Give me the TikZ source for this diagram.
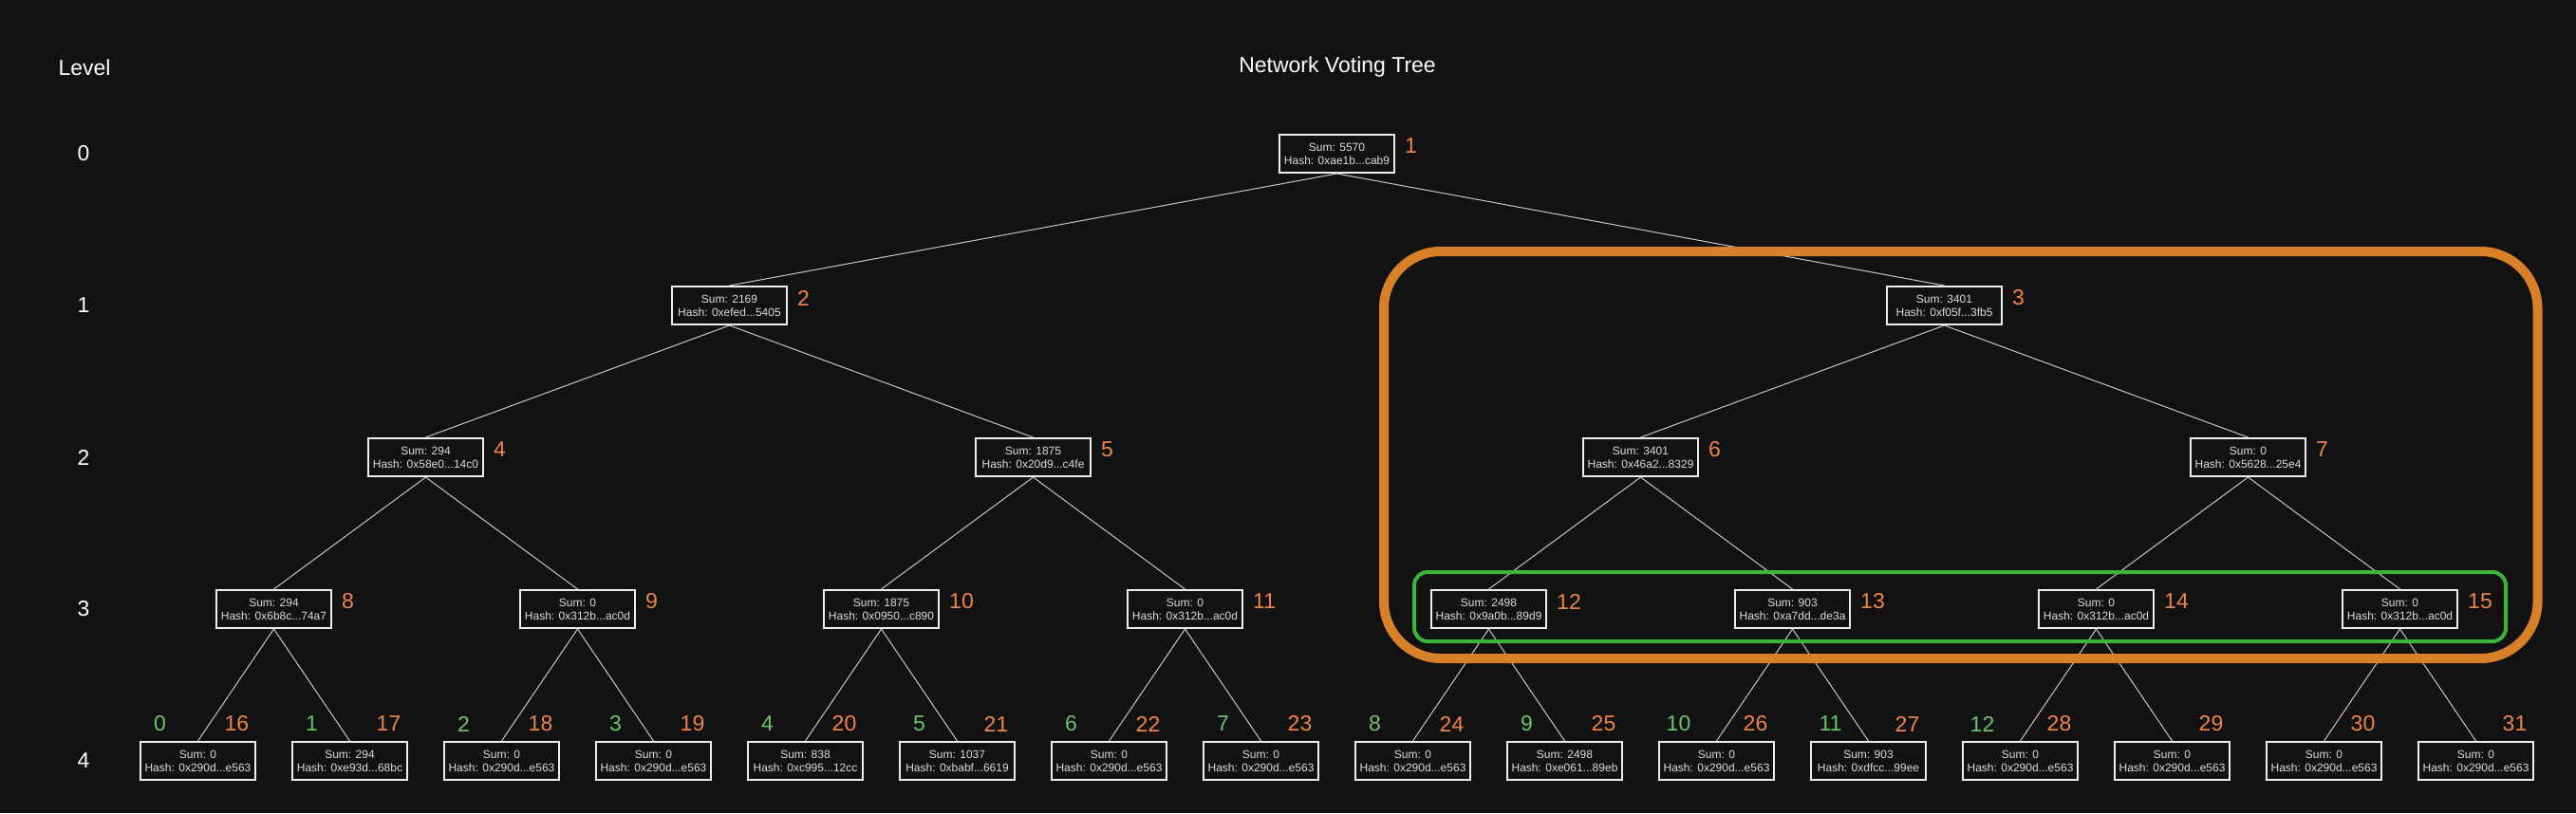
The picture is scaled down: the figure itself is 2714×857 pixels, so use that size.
\documentclass[tikz,border=0pt]{standalone}
\usepackage{fontspec}
\setmainfont{Liberation Sans}
\usetikzlibrary{calc}
\definecolor{bg}{HTML}{121212}
\definecolor{boxline}{HTML}{EEEEEE}
\definecolor{boxtext}{HTML}{DDDDDD}
\definecolor{edgecol}{HTML}{C8C8C8}
\definecolor{olabel}{HTML}{F0844A}
\definecolor{glabel}{HTML}{6CC36A}
\definecolor{orangehl}{HTML}{D78028}
\definecolor{greenhl}{HTML}{3CB43C}
\tikzset{
  tbox/.style={draw=boxline, fill=bg, line width=2pt, minimum width=121pt, minimum height=40pt,
    inner sep=0pt, align=center, text=boxtext, font=\fontsize{12}{14}\selectfont},
  olab/.style={text=olabel, font=\fontsize{23}{26}\selectfont, inner sep=0pt},
  glab/.style={text=glabel, font=\fontsize{23}{26}\selectfont, inner sep=0pt},
  lvl/.style={text=white, font=\fontsize{23}{26}\selectfont, inner sep=0pt},
  edge/.style={draw=edgecol, line width=1pt},
  hlorange/.style={draw=orangehl, line width=10pt, rounded corners=60pt},
  hlgreen/.style={draw=greenhl, line width=4pt, rounded corners=14pt},
}
\newcommand\TreeNode[5]{%
  \node[tbox] (n#1) at (#2,#3) {Sum: #4\\Hash: #5};
  \node[olab, anchor=west] (l#1) at ($(n#1.east)+(10,-8)$) {#1};}
\newcommand\LeafNode[4]{%
  \node[tbox] (n#1) at (#2,802) {Sum: #3\\Hash: #4};
  \node[olab] (l#1) at ($(n#1.center)+(41,-39)$) {#1};}
\newcommand\LeafIdx[2]{%
  \node[glab] (g#1) at ($(n#1.center)+(-40,-39)$) {#2};}
\begin{document}
\begin{tikzpicture}[x=1pt, y=-1pt]
\fill[bg] (0,0) rectangle (2714,857);
\useasboundingbox (0,0) rectangle (2714,857);

\node[lvl] (levelhead) at (89,71) {Level};
\node[lvl] (title) at (1409,71) {Network Voting Tree};
\node[lvl] (lv0) at (88,162) {0};
\node[lvl] (lv1) at (88,322) {1};
\node[lvl] (lv2) at (88,482) {2};
\node[lvl] (lv3) at (88,642) {3};
\node[lvl] (lv4) at (88,802) {4};

\TreeNode{1}{1408.5}{162}{5570}{0xae1b...cab9}
\TreeNode{2}{768.5}{322}{2169}{0xefed...5405}
\TreeNode{3}{2048.5}{322}{3401}{0xf05f...3fb5}
\TreeNode{4}{448.5}{482}{294}{0x58e0...14c0}
\TreeNode{5}{1088.5}{482}{1875}{0x20d9...c4fe}
\TreeNode{6}{1728.5}{482}{3401}{0x46a2...8329}
\TreeNode{7}{2368.5}{482}{0}{0x5628...25e4}
\TreeNode{8}{288.5}{642}{294}{0x6b8c...74a7}
\TreeNode{9}{608.5}{642}{0}{0x312b...ac0d}
\TreeNode{10}{928.5}{642}{1875}{0x0950...c890}
\TreeNode{11}{1248.5}{642}{0}{0x312b...ac0d}
\TreeNode{12}{1568.5}{642}{2498}{0x9a0b...89d9}
\TreeNode{13}{1888.5}{642}{903}{0xa7dd...de3a}
\TreeNode{14}{2208.5}{642}{0}{0x312b...ac0d}
\TreeNode{15}{2528.5}{642}{0}{0x312b...ac0d}

\LeafNode{16}{208.5}{0}{0x290d...e563}
\LeafNode{17}{368.5}{294}{0xe93d...68bc}
\LeafNode{18}{528.5}{0}{0x290d...e563}
\LeafNode{19}{688.5}{0}{0x290d...e563}
\LeafNode{20}{848.5}{838}{0xc995...12cc}
\LeafNode{21}{1008.5}{1037}{0xbabf...6619}
\LeafNode{22}{1168.5}{0}{0x290d...e563}
\LeafNode{23}{1328.5}{0}{0x290d...e563}
\LeafNode{24}{1488.5}{0}{0x290d...e563}
\LeafNode{25}{1648.5}{2498}{0xe061...89eb}
\LeafNode{26}{1808.5}{0}{0x290d...e563}
\LeafNode{27}{1968.5}{903}{0xdfcc...99ee}
\LeafNode{28}{2128.5}{0}{0x290d...e563}
\LeafNode{29}{2288.5}{0}{0x290d...e563}
\LeafNode{30}{2448.5}{0}{0x290d...e563}
\LeafNode{31}{2608.5}{0}{0x290d...e563}

\LeafIdx{16}{0}
\LeafIdx{17}{1}
\LeafIdx{18}{2}
\LeafIdx{19}{3}
\LeafIdx{20}{4}
\LeafIdx{21}{5}
\LeafIdx{22}{6}
\LeafIdx{23}{7}
\LeafIdx{24}{8}
\LeafIdx{25}{9}
\LeafIdx{26}{10}
\LeafIdx{27}{11}
\LeafIdx{28}{12}

\foreach \p/\a/\b in {1/2/3,2/4/5,3/6/7,4/8/9,5/10/11,6/12/13,7/14/15,
  8/16/17,9/18/19,10/20/21,11/22/23,12/24/25,13/26/27,14/28/29,15/30/31}{
  \draw[edge] (n\p.south) -- (n\a.north);
  \draw[edge] (n\p.south) -- (n\b.north);
}

\coordinate (ohA) at (1458,265);
\coordinate (ohB) at (2673.5,694);
\draw[hlorange] (ohA) rectangle (ohB);
\coordinate (ghA) at (1490,603);
\coordinate (ghB) at (2640,676);
\draw[hlgreen] (ghA) rectangle (ghB);
\end{tikzpicture}
\end{document}
